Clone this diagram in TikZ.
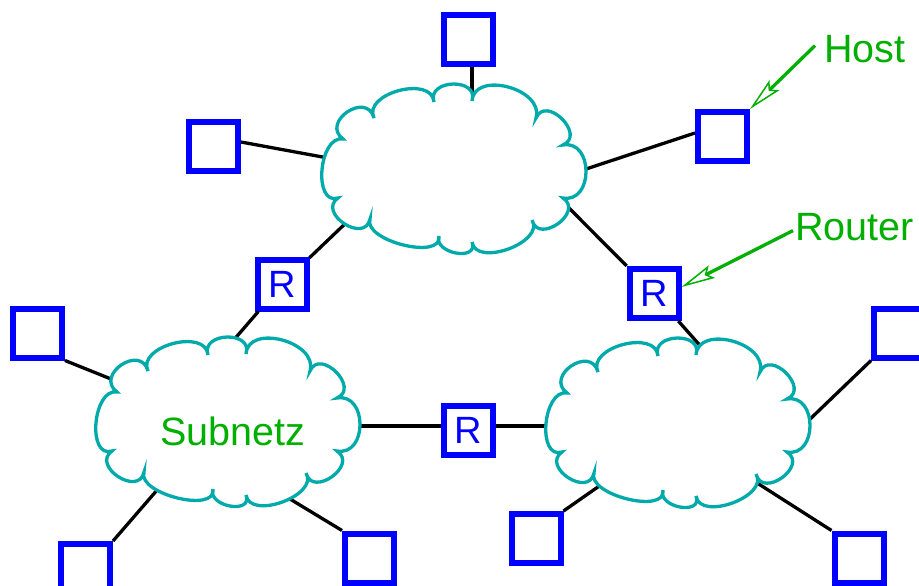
\documentclass[tikz,border=0pt]{standalone}
\usepackage{fontspec}
\setmainfont{Liberation Sans}
\usetikzlibrary{arrows.meta}
\definecolor{hostblue}{RGB}{0,0,255}
\definecolor{netcyan}{RGB}{0,170,170}
\definecolor{labelgreen}{RGB}{0,175,0}

\begin{document}
\begin{tikzpicture}[x=1pt,y=-1pt,
  hostbox/.style={draw=hostblue, line width=6pt, fill=white, minimum size=49pt, inner sep=0pt},
  routerbox/.style={hostbox, text=hostblue, font=\fontsize{38}{40}\selectfont},
  link/.style={line width=3.3pt, draw=black},
  cloudline/.style={draw=netcyan, line width=3.3pt, fill=white},
  tag/.style={text=labelgreen, font=\fontsize{39.5}{42}\selectfont, inner sep=0pt, anchor=base west},
  pointer/.style={draw=labelgreen, line width=3.3pt,
    -{Stealth[fill=white, length=34pt, width=14pt, inset=6pt, line width=1.5pt]}},
  netcloud/.pic={
    \path[cloudline] (-20,-67)
      .. controls (-27.6,-90.1) and (25.6,-91.5) .. (18,-68)
      .. controls (20.1,-98.9) and (90.5,-80.2) .. (82,-51)
      .. controls (92,-74.5) and (132.5,-34) .. (109,-24)
      .. controls (139.7,-29.3) and (139.7,34.3) .. (109,29)
      .. controls (130.6,43.2) and (84.1,76.2) .. (78,51)
      .. controls (91.5,73.1) and (21.9,98.7) .. (18,73)
      .. controls (25.3,92.9) and (-20.9,84.5) .. (-15,67)
      .. controls (-11.1,91.7) and (-91.1,71.9) .. (-84,50)
      .. controls (-89.2,75.4) and (-137.2,43.9) .. (-116,29)
      .. controls (-141.2,36.9) and (-135.2,-33.9) .. (-111,-30)
      .. controls (-133.7,-46.9) and (-87.2,-78.4) .. (-80,-51)
      .. controls (-91.7,-75.6) and (-22.1,-94.2) .. (-20,-67)
      -- cycle;
  }
]
\useasboundingbox (0,0) rectangle (919,586);

% hosts
\node[hostbox] (hTop) at (468.5,39.5) {};
\node[hostbox] (hTL)  at (213.5,146.5) {};
\node[hostbox] (hTR)  at (722.5,136.5) {};
\node[hostbox] (hML)  at (37.5,333) {};
\node[hostbox] (hMR)  at (898.5,333) {};
\node[hostbox] (hBL)  at (85.5,568.5) {};
\node[hostbox] (hBM)  at (369.5,558) {};
\node[hostbox] (hBR1) at (536,538.5) {};
\node[hostbox] (hBR2) at (859,558) {};

% routers
\node[routerbox] (r1) at (282,284) {R};
\node[routerbox] (r2) at (654,293.5) {R};
\node[routerbox] (r3) at (468.5,430.5) {R};

% attachment points on the subnet outlines
\coordinate (topN)  at (472,104);
\coordinate (topW)  at (328,158);
\coordinate (topE)  at (583,170);
\coordinate (topSW) at (349,220);
\coordinate (topSE) at (565,204);
\coordinate (blN)   at (232,342);
\coordinate (blW)   at (116,381);
\coordinate (blE)   at (357,426);
\coordinate (blSW)  at (158,489);
\coordinate (blSE)  at (290,499);
\coordinate (brN)   at (704,350);
\coordinate (brW)   at (549,426);
\coordinate (brE)   at (807,422);
\coordinate (brSW)  at (605,482);
\coordinate (brSE)  at (754,481);

% links
\draw[link] (topN |- hTop.south) -- (topN);
\draw[link] ([yshift=4.5pt]hTL.east) -- (topW);
\draw[link] ([yshift=3.5pt]hTR.west) -- (topE);
\draw[link] (topSW) -- (r1);
\draw[link] (r1) -- (blN);
\draw[link] (topSE) -- (r2);
\draw[link] (r2) -- (brN);
\draw[link] (blE) -- (blE -| r3.west);
\draw[link] (r3.east |- brW) -- (brW);
\draw[link] (hML.south east) -- (blW);
\draw[link] (hBL.north east) -- (blSW);
\draw[link] (hBM.north west) -- (blSE);
\draw[link] (hMR.south west) -- (brE);
\draw[link] (hBR1.north east) -- (brSW);
\draw[link] (hBR2.north west) -- (brSE);

% subnets
\pic at (454,169) {netcloud};
\pic at (228,422) {netcloud};
\pic at (678,423) {netcloud};

% labels
\node[tag] (lblSub)    at (160,445) {Subnetz};
\node[tag] (lblHost)   at (824,63)  {Host};
\node[tag] (lblRouter) at (795,240) {Router};

\draw[pointer] ([shift={(-9,-4)}]lblHost.west) -- (hTR.north east);
\draw[pointer] ([shift={(-2,4)}]lblRouter.west) -- ([yshift=6.5pt]r2.east);
\end{tikzpicture}
\end{document}
